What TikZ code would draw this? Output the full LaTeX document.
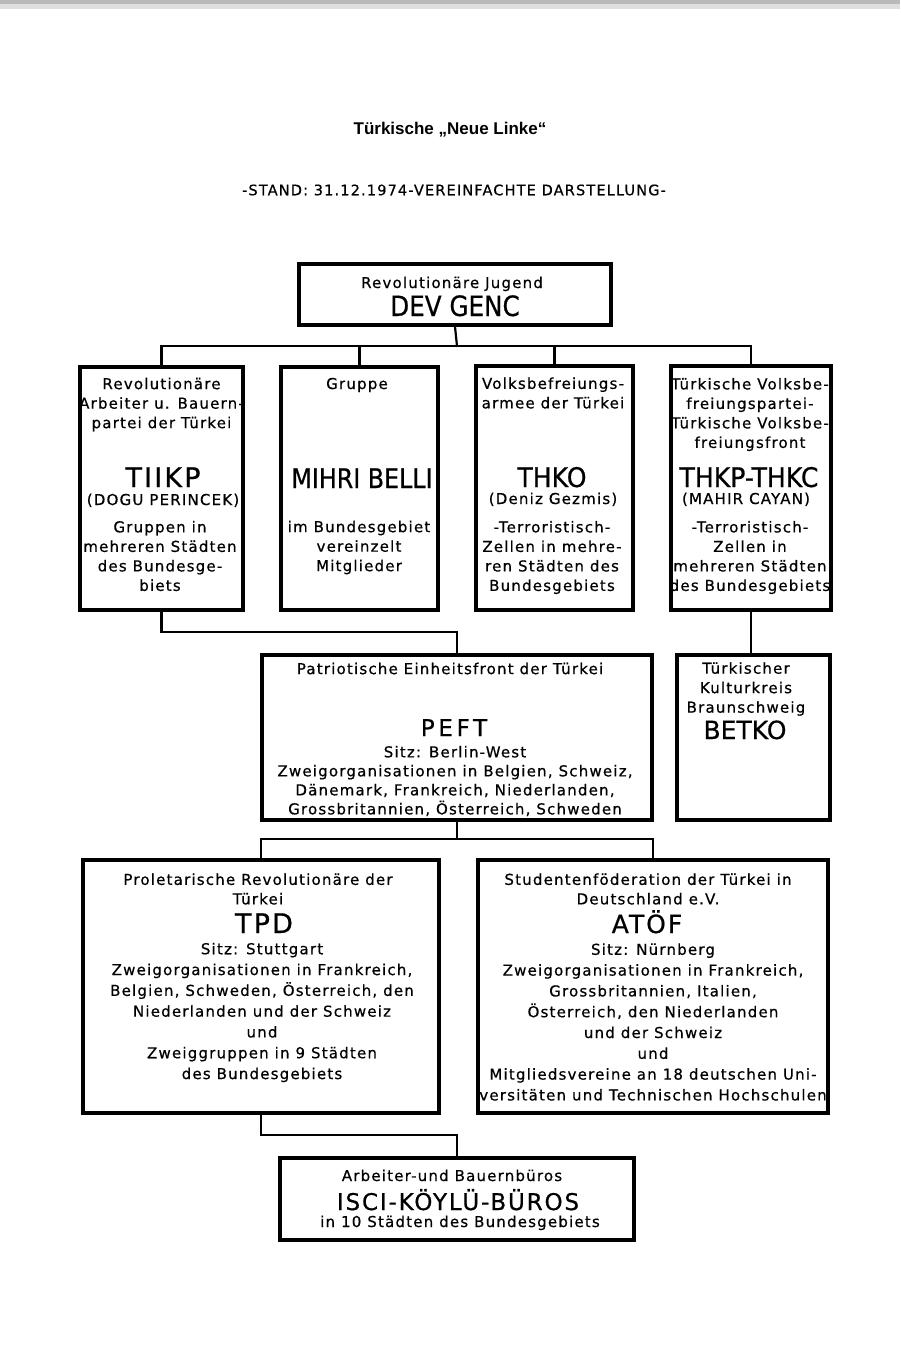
\documentclass[tikz,border=0pt]{standalone}
\usepackage{fontspec}
\newfontfamily\din[LetterSpace=8,FakeBold=0.6]{DejaVu Sans}
\newfontfamily\bigN[FakeStretch=0.88,FakeBold=0.6]{DejaVu Sans}
\newfontfamily\bigM[FakeStretch=0.93,FakeBold=0.6]{DejaVu Sans}
\newfontfamily\bigW[LetterSpace=8,FakeBold=0.6]{DejaVu Sans}
\newfontfamily\bigP[LetterSpace=16,FakeBold=0.6]{DejaVu Sans}
\newfontfamily\bigR[FakeBold=0.6]{DejaVu Sans}
\newfontfamily\ttl{Liberation Sans}
\begin{document}
\begin{tikzpicture}[x=1pt,y=-1pt,
 box/.style={draw, line width=3.4pt, rectangle, inner sep=0pt},
 conn/.style={line width=2.2pt},
 txt/.style={font=\din\fontsize{15}{19.5}\selectfont, align=center, inner sep=0pt},
 lbl/.style={font=\din\fontsize{15}{19.5}\selectfont, inner sep=0pt, anchor=base},
 big/.style={inner sep=0pt, anchor=base},
]
\useasboundingbox (0,0) rectangle (900,1359);
\fill[gray!55] (0,0) rectangle (900,4);
\fill[gray!25] (0,4) rectangle (900,9);

% titles
\node[font=\ttl\bfseries\fontsize{17}{20}\selectfont, inner sep=0pt] (title) at (450,130) {Türkische „Neue Linke“};
\node[font=\din\fontsize{14.5}{18}\selectfont, inner sep=0pt] (sub) at (454,190) {-STAND: 31.12.1974-VEREINFACHTE DARSTELLUNG-};

% boxes
\node[box, minimum width=312pt, minimum height=61pt] (devgenc) at (455,294.5) {};
\node[box, minimum width=163pt, minimum height=243pt] (b1) at (161.5,488.5) {};
\node[box, minimum width=157pt, minimum height=243pt] (b2) at (359.5,488.5) {};
\node[box, minimum width=157pt, minimum height=244pt] (b3) at (554.5,488) {};
\node[box, minimum width=160pt, minimum height=244pt] (b4) at (751,488) {};
\node[box, minimum width=390pt, minimum height=165pt] (peft) at (457,737.5) {};
\node[box, minimum width=153pt, minimum height=165pt] (betko) at (753.5,737.5) {};
\node[box, minimum width=356pt, minimum height=253pt] (tpd) at (261,986.5) {};
\node[box, minimum width=350pt, minimum height=253pt] (atoef) at (653,986.5) {};
\node[box, minimum width=354pt, minimum height=82pt] (isci) at (457,1199) {};

% connectors
\coordinate (bus1) at (457,346);
\draw[conn] (devgenc.south) -- (bus1);
\draw[conn] (b1.north) |- (bus1) -| (b4.north);
\draw[conn] (b2.north) -- (b2.north |- bus1);
\draw[conn] (b3.north) -- (b3.north |- bus1);
\coordinate (bus2) at (457,632);
\draw[conn] (b1.south) |- (bus2) -- (peft.north);
\draw[conn] (b4.south) -- (b4.south |- betko.north);
\coordinate (bus3) at (457,839);
\draw[conn] (peft.south) -- (bus3);
\draw[conn] (tpd.north) |- (bus3) -| (atoef.north);
\coordinate (bus4) at (457,1135);
\draw[conn] (tpd.south) |- (bus4) -- (isci.north);

% DEV GENC
\node[lbl] (t0a) at (452,288) {Revolutionäre Jugend};
\node[big, font=\bigN\fontsize{28}{30}\selectfont] (t0b) at (455,316) {DEV GENC};

% box 1
\node[txt] (t1a) at (161.5,404.5) {Revolutionäre\\Arbeiter u. Bauern-\\partei der Türkei};
\node[big, font=\bigW\fontsize{27}{30}\selectfont] (t1b) at (163,487) {TIIKP};
\node[lbl] (t1c) at (163,505) {(DOGU PERINCEK)};
\node[txt] (t1d) at (160,556) {Gruppen in\\mehreren Städten\\des Bundesge-\\biets};

% box 2
\node[lbl] (t2a) at (357,389) {Gruppe};
\node[big, font=\bigN\fontsize{27}{30}\selectfont] (t2b) at (362,488) {MIHRI BELLI};
\node[txt] (t2d) at (359,547.5) {im Bundesgebiet\\vereinzelt\\Mitglieder};

% box 3
\node[txt] (t3a) at (553,393) {Volksbefreiungs-\\armee der Türkei};
\node[big, font=\bigM\fontsize{27}{30}\selectfont] (t3b) at (552,487) {THKO};
\node[lbl] (t3c) at (553,504) {(Deniz Gezmis)};
\node[txt] (t3d) at (552,557.5) {-Terroristisch-\\Zellen in mehre-\\ren Städten des\\Bundesgebiets};

% box 4
\node[txt] (t4a) at (750,414.5) {Türkische Volksbe-\\freiungspartei-\\Türkische Volksbe-\\freiungsfront};
\node[big, font=\bigM\fontsize{27}{30}\selectfont] (t4b) at (749,487) {THKP-THKC};
\node[lbl] (t4c) at (746,504) {(MAHIR CAYAN)};
\node[txt] (t4d) at (750,557.5) {-Terroristisch-\\Zellen in\\mehreren Städten\\des Bundesgebiets};

% PEFT
\node[txt] (t5a) at (450,668.5) {Patriotische Einheitsfront der Türkei};
\node[big, font=\bigP\fontsize{23}{26}\selectfont] (t5b) at (454,736) {PEFT};
\node[txt, font=\din\fontsize{15}{19}\selectfont] (t5c) at (455,781) {Sitz: Berlin-West\\Zweigorganisationen in Belgien, Schweiz,\\Dänemark, Frankreich, Niederlanden,\\Grossbritannien, Österreich, Schweden};

% BETKO
\node[txt] (t6a) at (746,689) {Türkischer\\Kulturkreis\\Braunschweig};
\node[big, font=\bigR\fontsize{25}{28}\selectfont] (t6b) at (745,739) {BETKO};

% TPD
\node[txt] (t7a) at (258,889) {Proletarische Revolutionäre der\\Türkei};
\node[big, font=\bigW\fontsize{27}{30}\selectfont] (t7b) at (264,933) {TPD};
\node[txt, font=\din\fontsize{15}{20.8}\selectfont] (t7c) at (262,1012.5) {Sitz: Stuttgart\\Zweigorganisationen in Frankreich,\\Belgien, Schweden, Österreich, den\\Niederlanden und der Schweiz\\und\\Zweiggruppen in 9 Städten\\des Bundesgebiets};

% ATOEF
\node[txt] (t8a) at (648,889) {Studentenföderation der Türkei in\\Deutschland e.V.};
\node[big, font=\bigW\fontsize{25}{28}\selectfont] (t8b) at (647,933) {ATÖF};
\node[txt, font=\din\fontsize{15}{20.8}\selectfont] (t8c) at (653,1022) {Sitz: Nürnberg\\Zweigorganisationen in Frankreich,\\Grossbritannien, Italien,\\Österreich, den Niederlanden\\und der Schweiz\\und\\Mitgliedsvereine an 18 deutschen Uni-\\versitäten und Technischen Hochschulen};

% ISCI
\node[lbl] (t9a) at (452,1181) {Arbeiter-und Bauernbüros};
\node[big, font=\bigW\fontsize{23}{26}\selectfont] (t9b) at (458,1210) {ISCI-KÖYLÜ-BÜROS};
\node[lbl] (t9c) at (460,1227) {in 10 Städten des Bundesgebiets};
\end{tikzpicture}
\end{document}
